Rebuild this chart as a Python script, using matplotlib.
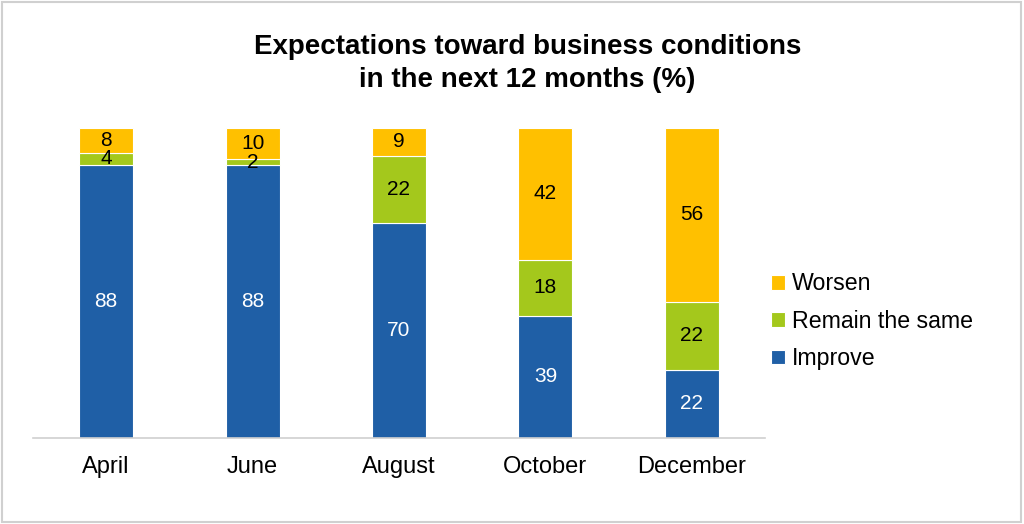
import matplotlib.pyplot as plt
import numpy as np

plt.rcParams['font.family'] = ['Liberation Sans', 'DejaVu Sans']

months = ['April', 'June', 'August', 'October', 'December']
improve = [88, 88, 70, 39, 22]
same = [4, 2, 22, 18, 22]
worsen = [8, 10, 9, 42, 56]

c_imp = '#1F5FA6'
c_same = '#A4C81C'
c_wor = '#FFC000'

# 100% stacked: scale each column to its total
tot = [a + b + c for a, b, c in zip(improve, same, worsen)]
p_imp = [100 * a / t for a, t in zip(improve, tot)]
p_same = [100 * a / t for a, t in zip(same, tot)]
p_wor = [100 * a / t for a, t in zip(worsen, tot)]

fig = plt.figure(figsize=(10.24, 5.24), dpi=100)
# light grey frame round the picture
fig.patches.append(plt.Rectangle((0.002, 0.004), 0.995, 0.992, transform=fig.transFigure,
                                 fill=False, edgecolor='#D0D0D0', linewidth=1.5))

ax = fig.add_axes([33 / 1024, (524 - 438) / 524, (765 - 33) / 1024, (438 - 128) / 524])

x = np.arange(len(months))
w = 0.37
b1 = ax.bar(x, p_imp, w, color=c_imp, edgecolor='white', linewidth=0.8, label='Improve')
b2 = ax.bar(x, p_same, w, bottom=p_imp, color=c_same, edgecolor='white', linewidth=0.8,
            label='Remain the same')
bot3 = [a + b for a, b in zip(p_imp, p_same)]
b3 = ax.bar(x, p_wor, w, bottom=bot3, color=c_wor, edgecolor='white', linewidth=0.8,
            label='Worsen')

ax.bar_label(b1, labels=[str(v) for v in improve], label_type='center', color='white', fontsize=15)
ax.bar_label(b2, labels=[str(v) for v in same], label_type='center', color='black', fontsize=15)
ax.bar_label(b3, labels=[str(v) for v in worsen], label_type='center', color='black', fontsize=15)

ax.set_xlim(-0.5, len(months) - 0.5)
ax.set_ylim(0, 100)
ax.set_xticks(x)
ax.set_xticklabels(months, fontsize=17)
ax.tick_params(axis='x', length=0, pad=13)
ax.set_yticks([])
for s in ['top', 'right', 'left']:
    ax.spines[s].set_visible(False)
ax.spines['bottom'].set_color('#D0D0D0')
ax.spines['bottom'].set_linewidth(1.2)

fig.text(0.515, 0.935, 'Expectations toward business conditions\nin the next 12 months (%)',
         ha='center', va='top', fontsize=20, fontweight='bold', linespacing=1.33)

handles = [b3, b2, b1]
fig.legend(handles, [h.get_label() for h in handles], loc='center left',
           bbox_to_anchor=(0.733, 0.387), frameon=False, fontsize=16.7,
           handlelength=0.6, handleheight=0.6, handletextpad=0.3, labelspacing=0.62)

fig.savefig('out.png', dpi=100)
